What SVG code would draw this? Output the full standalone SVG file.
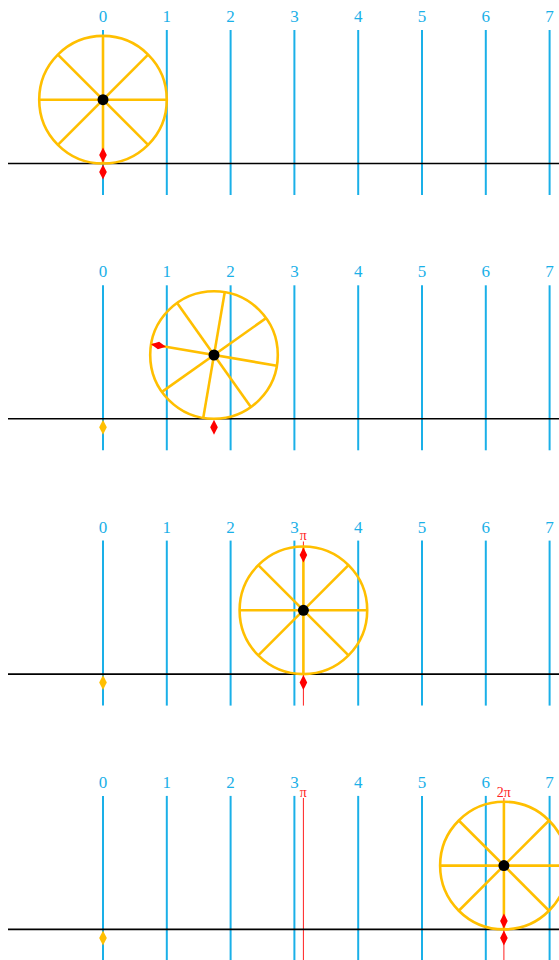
<svg xmlns="http://www.w3.org/2000/svg" xmlns:xlink="http://www.w3.org/1999/xlink" width="559" height="960" viewBox="0 0 559 960">
<style>
.tick{stroke:#1ab0e8;stroke-width:2;fill:none}
.num{font-family:"Liberation Serif","DejaVu Serif",serif;font-size:17px;fill:#1ab0e8;text-anchor:middle}
.ground{stroke:#000;stroke-width:1.6}
.rim{fill:none;stroke:#ffbf00;stroke-width:2.6}
.spoke{stroke:#ffbf00;stroke-width:2.6}
.hub{fill:#000}
.redline{stroke:#ff2020;stroke-width:1}
.rlab{font-family:"Liberation Serif","DejaVu Serif",serif;font-size:14px;fill:#ff2020;text-anchor:middle}
.rd{fill:#ff0000}
.yd{fill:#ffbf00}
</style>
<defs>
<polygon id="dia" points="0,0 3.8,7.5 0,15 -3.8,7.5"/>
<g id="spokes">
<line class="spoke" x1="-63.8" y1="0" x2="63.8" y2="0"/>
<line class="spoke" x1="0" y1="-63.8" x2="0" y2="63.8"/>
<line class="spoke" x1="-45.11" y1="-45.11" x2="45.11" y2="45.11"/>
<line class="spoke" x1="-45.11" y1="45.11" x2="45.11" y2="-45.11"/>
</g>
<g id="axis">
<line class="tick" x1="103" y1="-133.5" x2="103" y2="31.5"/>
<line class="tick" x1="166.8" y1="-133.5" x2="166.8" y2="31.5"/>
<line class="tick" x1="230.6" y1="-133.5" x2="230.6" y2="31.5"/>
<line class="tick" x1="294.4" y1="-133.5" x2="294.4" y2="31.5"/>
<line class="tick" x1="358.2" y1="-133.5" x2="358.2" y2="31.5"/>
<line class="tick" x1="422" y1="-133.5" x2="422" y2="31.5"/>
<line class="tick" x1="485.8" y1="-133.5" x2="485.8" y2="31.5"/>
<line class="tick" x1="549.6" y1="-133.5" x2="549.6" y2="31.5"/>
<text class="num" x="103" y="-141.5">0</text>
<text class="num" x="166.8" y="-141.5">1</text>
<text class="num" x="230.6" y="-141.5">2</text>
<text class="num" x="294.4" y="-141.5">3</text>
<text class="num" x="358.2" y="-141.5">4</text>
<text class="num" x="422" y="-141.5">5</text>
<text class="num" x="485.8" y="-141.5">6</text>
<text class="num" x="549.6" y="-141.5">7</text>
</g>
</defs>

<!-- Panel 1 -->
<g id="panel1">
<use xlink:href="#axis" href="#axis" transform="translate(0,163.5)"/>
<line class="ground" x1="8" y1="163.5" x2="559" y2="163.5"/>
<g id="wheel1">
<circle class="rim" cx="103" cy="99.7" r="63.8"/>
<use xlink:href="#spokes" href="#spokes" transform="translate(103,99.7)"/>
<circle class="hub" cx="103" cy="99.7" r="5.5"/>
</g>
<use class="rd" xlink:href="#dia" href="#dia" transform="translate(103,162.5) rotate(180)"/>
<use class="rd" xlink:href="#dia" href="#dia" transform="translate(103,164.5)"/>
</g>

<!-- Panel 2 -->
<g id="panel2">
<use xlink:href="#axis" href="#axis" transform="translate(0,418.8)"/>
<line class="ground" x1="8" y1="418.8" x2="559" y2="418.8"/>
<g id="wheel2">
<circle class="rim" cx="214" cy="355" r="63.8"/>
<use xlink:href="#spokes" href="#spokes" transform="translate(214,355) rotate(9.7)"/>
<circle class="hub" cx="214" cy="355" r="5.5"/>
</g>
<use class="rd" xlink:href="#dia" href="#dia" transform="translate(151.1,344.25) rotate(-80.3)"/>
<use class="yd" xlink:href="#dia" href="#dia" transform="translate(103,419.8)"/>
<use class="rd" xlink:href="#dia" href="#dia" transform="translate(214,419.8)"/>
</g>

<!-- Panel 3 -->
<g id="panel3">
<use xlink:href="#axis" href="#axis" transform="translate(0,674.1)"/>
<line class="redline" x1="303.4" y1="541.5" x2="303.4" y2="705.6"/>
<text class="rlab" x="303.4" y="540">π</text>
<line class="ground" x1="8" y1="674.1" x2="559" y2="674.1"/>
<g id="wheel3">
<circle class="rim" cx="303.4" cy="610.3" r="63.8"/>
<use xlink:href="#spokes" href="#spokes" transform="translate(303.4,610.3)"/>
<circle class="hub" cx="303.4" cy="610.3" r="5.5"/>
</g>
<use class="rd" xlink:href="#dia" href="#dia" transform="translate(303.4,547.5)"/>
<use class="yd" xlink:href="#dia" href="#dia" transform="translate(103,675.1)"/>
<use class="rd" xlink:href="#dia" href="#dia" transform="translate(303.4,675.1)"/>
</g>

<!-- Panel 4 -->
<g id="panel4">
<use xlink:href="#axis" href="#axis" transform="translate(0,929.4)"/>
<line class="redline" x1="303.4" y1="798" x2="303.4" y2="961"/>
<text class="rlab" x="303.4" y="797">π</text>
<line class="redline" x1="503.9" y1="798" x2="503.9" y2="961"/>
<text class="rlab" x="503.9" y="797">2π</text>
<line class="ground" x1="8" y1="929.4" x2="559" y2="929.4"/>
<g id="wheel4">
<circle class="rim" cx="503.9" cy="865.6" r="63.8"/>
<use xlink:href="#spokes" href="#spokes" transform="translate(503.9,865.6)"/>
<circle class="hub" cx="503.9" cy="865.6" r="5.5"/>
</g>
<use class="rd" xlink:href="#dia" href="#dia" transform="translate(503.9,928.4) rotate(180)"/>
<use class="yd" xlink:href="#dia" href="#dia" transform="translate(103,930.4)"/>
<use class="rd" xlink:href="#dia" href="#dia" transform="translate(503.9,930.4)"/>
</g>
</svg>
